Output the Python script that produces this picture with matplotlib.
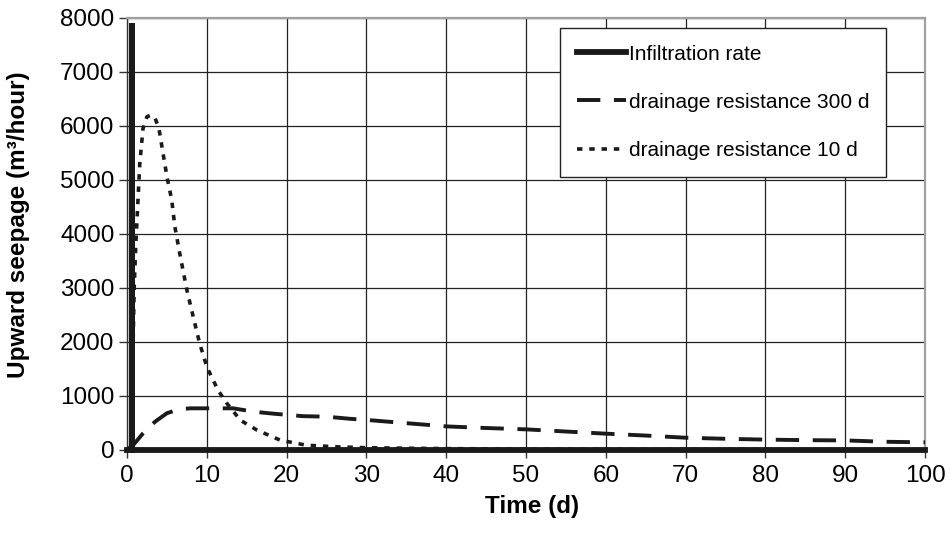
import matplotlib
matplotlib.use('Agg')
import matplotlib.pyplot as plt

plt.rcParams['font.family'] = ['Liberation Sans', 'DejaVu Sans']

# infiltration pulse (m3/hour)
t_inf = [0, 0.6, 0.6, 0.6, 100]
q_inf = [0, 0, 7900, 0, 0]

# drainage resistance 300 d
t_300 = [0, 0.75, 2, 3.5, 5, 6.6, 8, 10, 13.3, 16, 18.4, 22, 25, 28, 30,
         35, 40, 45, 50, 55, 60, 65, 70, 75, 80, 85, 90, 95, 100]
q_300 = [0, 80, 300, 515, 675, 750, 765, 765, 765, 700, 665, 620, 610, 570, 550,
         490, 430, 400, 375, 335, 295, 260, 220, 200, 185, 175, 170, 145, 135]

# drainage resistance 10 d
t_10 = [0.5, 0.7, 0.9, 1.1, 1.3, 1.6, 2.0, 2.5, 3.0, 3.5, 4.0, 5.0, 5.6, 6.0,
        6.6, 7.5, 8.3, 9.1, 10, 11.4, 12.5, 14.2, 16.3, 19.2, 22.5, 26.5,
        30, 35, 40, 50, 60, 100]
q_10 = [0, 1500, 3000, 3800, 4400, 5300, 5950, 6170, 6200, 6150, 5950, 5060,
        4630, 4130, 3640, 2960, 2460, 1970, 1535, 1100, 860, 545, 360, 175,
        80, 50, 35, 25, 18, 10, 5, 0]

fig = plt.figure(figsize=(9.5, 5.42), dpi=100)
ax = fig.add_axes([0.1337, 0.1705, 0.8400, 0.7963])

ax.grid(True, color='#222222', linewidth=0.9)
ax.set_axisbelow(True)

ax.plot(t_inf, q_inf, color='#1a1a1a', linewidth=4.2, clip_on=False,
        solid_joinstyle='miter', label='Infiltration rate', zorder=5)
ax.plot(t_300, q_300, color='#1a1a1a', linewidth=2.8, dashes=(6, 3.5),
        label='drainage resistance 300 d', zorder=4)
ax.plot(t_10, q_10, color='#1a1a1a', linewidth=2.6, dashes=(1.5, 1.9),
        label='drainage resistance 10 d', zorder=4)

ax.set_xlim(0, 100)
ax.set_ylim(0, 8000)
ax.set_xticks(range(0, 101, 10))
ax.set_yticks(range(0, 8001, 1000))
ax.tick_params(axis='both', labelsize=17.5, direction='out', length=6,
               width=1, color='#333333')
ax.tick_params(axis='y', pad=3)
ax.tick_params(axis='x', pad=5)

for s in ['top', 'right']:
    ax.spines[s].set_color('#a0a0a0')
    ax.spines[s].set_linewidth(1.6)
for s in ['left', 'bottom']:
    ax.spines[s].set_color('#333333')
    ax.spines[s].set_linewidth(1.0)

ax.set_xlabel('Time (d)', fontsize=17.5, fontweight='bold')
ax.set_ylabel('Upward seepage (m³/hour)', fontsize=17.5, fontweight='bold')
ax.xaxis.set_label_coords(0.5075, -0.106)
ax.yaxis.set_label_coords(-0.121, 0.522)

leg = ax.legend(loc='upper left', bbox_to_anchor=(0.5426, 0.977),
                fontsize=15, frameon=True, fancybox=False, borderaxespad=0,
                handlelength=2.35, handletextpad=0.15, labelspacing=1.4,
                borderpad=0.8)
leg.get_frame().set_edgecolor('#222222')
leg.get_frame().set_linewidth(1.0)
leg.get_frame().set_alpha(1)

fig.savefig('out.png', dpi=100)
